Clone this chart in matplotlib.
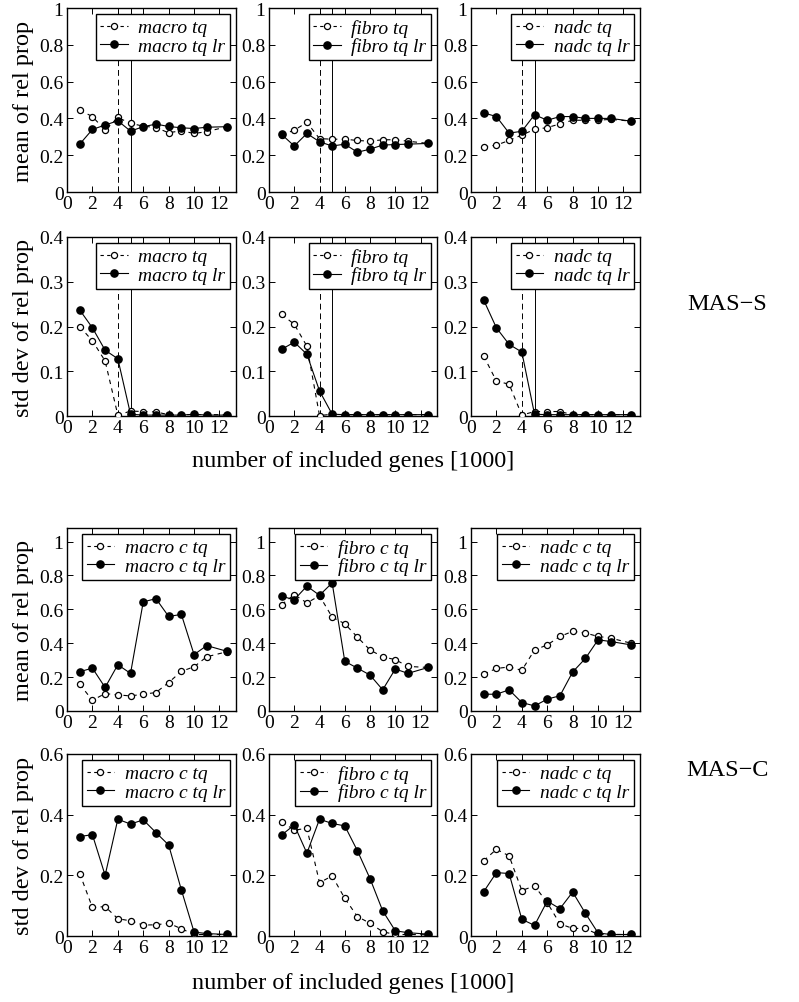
import matplotlib
matplotlib.use("Agg")
import matplotlib.pyplot as plt
from matplotlib.ticker import FuncFormatter, MultipleLocator
from matplotlib.lines import Line2D

plt.rcParams['font.family'] = ['Liberation Serif', 'DejaVu Serif']

# ---------------- data ----------------
genes = [1, 2, 3, 4, 5, 6, 7, 8, 9, 10, 11, 12.6]
cell_types = ["macro", "fibro", "nadc"]

# MAS-S : mean of relative proportion
mas_s_mean_tq = {
    "macro": [0.445, 0.41, 0.336, 0.405, 0.373, 0.358, 0.35, 0.322, 0.333, 0.318, 0.328, 0.355],
    "fibro": [0.31, 0.336, 0.378, 0.29, 0.287, 0.287, 0.28, 0.276, 0.284, 0.284, 0.276, 0.264],
    "nadc":  [0.245, 0.255, 0.28, 0.31, 0.34, 0.35, 0.37, 0.39, 0.39, 0.39, 0.395, 0.385],
}
mas_s_mean_lr = {
    "macro": [0.26, 0.34, 0.364, 0.387, 0.331, 0.355, 0.369, 0.356, 0.349, 0.345, 0.352, 0.355],
    "fibro": [0.313, 0.25, 0.318, 0.273, 0.25, 0.26, 0.216, 0.233, 0.255, 0.258, 0.26, 0.264],
    "nadc":  [0.43, 0.41, 0.32, 0.33, 0.42, 0.39, 0.41, 0.41, 0.40, 0.40, 0.40, 0.385],
}
# MAS-S : std dev of relative proportion
mas_s_std_tq = {
    "macro": [0.2, 0.168, 0.123, 0.002, 0.011, 0.01, 0.009, 0.003, 0.003, 0.003, 0.003, 0.003],
    "fibro": [0.227, 0.205, 0.156, 0.001, 0.004, 0.003, 0.003, 0.003, 0.003, 0.003, 0.003, 0.003],
    "nadc":  [0.134, 0.078, 0.071, 0.002, 0.01, 0.01, 0.01, 0.003, 0.003, 0.003, 0.003, 0.003],
}
mas_s_std_lr = {
    "macro": [0.237, 0.197, 0.147, 0.128, 0.004, 0.002, 0.002, 0.002, 0.002, 0.004, 0.002, 0.002],
    "fibro": [0.149, 0.165, 0.138, 0.056, 0.004, 0.003, 0.003, 0.003, 0.003, 0.003, 0.003, 0.003],
    "nadc":  [0.259, 0.197, 0.16, 0.143, 0.004, 0.003, 0.003, 0.003, 0.003, 0.003, 0.003, 0.003],
}

# MAS-C : mean of relative proportion
mas_c_mean_tq = {
    "macro": [0.158, 0.063, 0.103, 0.095, 0.089, 0.099, 0.109, 0.168, 0.234, 0.261, 0.32, 0.35],
    "fibro": [0.628, 0.687, 0.638, 0.68, 0.554, 0.515, 0.436, 0.36, 0.32, 0.303, 0.263, 0.257],
    "nadc":  [0.218, 0.251, 0.26, 0.24, 0.36, 0.39, 0.44, 0.47, 0.46, 0.44, 0.43, 0.40],
}
mas_c_mean_lr = {
    "macro": [0.232, 0.253, 0.139, 0.273, 0.222, 0.644, 0.663, 0.558, 0.57, 0.333, 0.386, 0.352],
    "fibro": [0.677, 0.657, 0.737, 0.683, 0.756, 0.293, 0.253, 0.212, 0.125, 0.248, 0.222, 0.257],
    "nadc":  [0.099, 0.099, 0.125, 0.05, 0.03, 0.07, 0.09, 0.23, 0.31, 0.42, 0.41, 0.39],
}
# MAS-C : std dev of relative proportion
mas_c_std_tq = {
    "macro": [0.206, 0.094, 0.097, 0.057, 0.05, 0.036, 0.037, 0.042, 0.024, 0.005, 0.005, 0.005],
    "fibro": [0.377, 0.349, 0.355, 0.176, 0.198, 0.124, 0.064, 0.042, 0.014, 0.005, 0.005, 0.004],
    "nadc":  [0.248, 0.286, 0.264, 0.15, 0.165, 0.11, 0.04, 0.025, 0.025, 0.005, 0.005, 0.005],
}
mas_c_std_lr = {
    "macro": [0.328, 0.334, 0.2, 0.385, 0.369, 0.383, 0.341, 0.3, 0.152, 0.013, 0.008, 0.005],
    "fibro": [0.333, 0.366, 0.273, 0.385, 0.371, 0.363, 0.281, 0.189, 0.083, 0.017, 0.011, 0.006],
    "nadc":  [0.146, 0.209, 0.206, 0.055, 0.035, 0.115, 0.09, 0.145, 0.075, 0.01, 0.005, 0.005],
}

x_ticks = [0, 2, 4, 6, 8, 10, 12]
cut_dashed = 4
cut_solid = 5

# ---------------- layout ----------------
W, H = 799, 1003
fig = plt.figure(figsize=(W / 100, H / 100), dpi=100)

col_x = [(67, 236), (269, 437), (471, 640)]
rows = [(9, 193), (238, 417), (529, 712), (755, 937)]


def add_ax(col, row):
    x0, x1 = col_x[col]
    y0, y1 = rows[row]
    return fig.add_axes([x0 / W, 1 - y1 / H, (x1 - x0) / W, (y1 - y0) / H])


fmt = FuncFormatter(lambda v, p: ("%g" % round(v, 3)))


def style(ax, ylim, ystep):
    ax.set_xlim(0, 13.3)
    ax.set_ylim(*ylim)
    ax.set_xticks(x_ticks)
    ax.yaxis.set_major_locator(MultipleLocator(ystep))
    ax.yaxis.set_major_formatter(fmt)
    ax.tick_params(direction='in', top=True, right=True, length=4, width=0.7,
                   labelsize=14, pad=2.5)
    for s in ax.spines.values():
        s.set_linewidth(1.0)


def draw(ax, name, tq, lr, suffix, vlines):
    if vlines:
        ax.axvline(cut_dashed, color='k', lw=0.7, ls=(0, (6, 4)))
        ax.axvline(cut_solid, color='k', lw=0.7)
    ax.plot(genes, tq, color='k', ls=(0, (4, 4)), lw=0.8, marker='o', ms=4.4,
            mfc='white', mec='k', mew=0.9, zorder=3)
    ax.plot(genes, lr, color='k', ls='-', lw=0.8, marker='o', ms=5.2,
            mfc='k', mec='k', zorder=4)
    h1 = Line2D([], [], color='k', ls=(0, (3, 3)), lw=0.8, marker='o', ms=4.4,
                mfc='white', mec='k', mew=0.9)
    h2 = Line2D([], [], color='k', ls='-', lw=0.8, marker='o', ms=5.2, mfc='k', mec='k')
    leg = ax.legend([h1, h2], [f"{name}{suffix} tq", f"{name}{suffix} tq lr"],
                    loc='upper right', fancybox=False, framealpha=1,
                    edgecolor='k', prop={'style': 'italic', 'size': 14},
                    borderaxespad=0.3, handlelength=1.4, handletextpad=0.55,
                    borderpad=0.25, labelspacing=0.05)
    leg.get_frame().set_linewidth(1.0)


for i, ct in enumerate(cell_types):
    ax = add_ax(i, 0)
    draw(ax, ct, mas_s_mean_tq[ct], mas_s_mean_lr[ct], "", True)
    style(ax, (0, 1), 0.2)
    if i == 0:
        ax.set_ylabel("mean of rel prop", fontsize=17.5, labelpad=4)

    ax = add_ax(i, 1)
    draw(ax, ct, mas_s_std_tq[ct], mas_s_std_lr[ct], "", True)
    style(ax, (0, 0.4), 0.1)
    if i == 0:
        ax.set_ylabel("std dev of rel prop", fontsize=17.5, labelpad=4)

    ax = add_ax(i, 2)
    draw(ax, ct, mas_c_mean_tq[ct], mas_c_mean_lr[ct], " c", False)
    style(ax, (0, 1.08), 0.2)
    if i == 0:
        ax.set_ylabel("mean of rel prop", fontsize=17.5, labelpad=4)

    ax = add_ax(i, 3)
    draw(ax, ct, mas_c_std_tq[ct], mas_c_std_lr[ct], " c", False)
    style(ax, (0, 0.6), 0.2)
    if i == 0:
        ax.set_ylabel("std dev of rel prop", fontsize=17.5, labelpad=4)

xc = (67 + 640) / 2 / W
fig.text(xc, 1 - 462 / H, "number of included genes [1000]", ha='center', va='center', fontsize=17.5)
fig.text(xc, 1 - 984 / H, "number of included genes [1000]", ha='center', va='center', fontsize=17.5)
fig.text(727 / W, 1 - 305 / H, "MAS\u2212S", ha='center', va='center', fontsize=17.5)
fig.text(727 / W, 1 - 770 / H, "MAS\u2212C", ha='center', va='center', fontsize=17.5)

fig.savefig("out.png", dpi=100)
